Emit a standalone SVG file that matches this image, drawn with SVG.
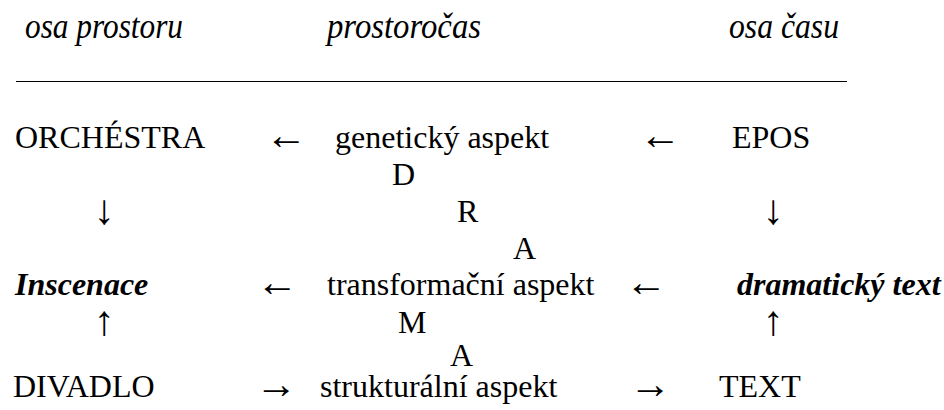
<svg xmlns="http://www.w3.org/2000/svg" width="944" height="410" viewBox="0 0 944 410">
<style>
.h{font-family:"Liberation Serif","Times New Roman",serif;font-style:italic;font-size:35px;fill:#000}
.t{font-family:"Liberation Serif","Times New Roman",serif;font-size:32px;fill:#000}
.bi{font-family:"Liberation Serif","Times New Roman",serif;font-size:32px;font-style:italic;font-weight:bold;fill:#000}
.a{font-family:"Liberation Serif","DejaVu Serif",serif;font-size:42px;fill:#000;text-anchor:middle}
</style>
<rect width="944" height="410" fill="#fff"/>
<g id="header">
<text class="h" x="25" y="38" textLength="158" lengthAdjust="spacingAndGlyphs">osa prostoru</text>
<text class="h" x="327" y="38" textLength="154" lengthAdjust="spacingAndGlyphs">prostoročas</text>
<text class="h" x="729" y="38" textLength="110" lengthAdjust="spacingAndGlyphs">osa času</text>
<line x1="16" y1="81.5" x2="847" y2="81.5" stroke="#000" stroke-width="1"/>
</g>
<g id="orchestra"><text class="t" x="15" y="148">ORCHÉSTRA</text></g>
<g id="geneticky"><text class="t" x="335" y="148">genetický aspekt</text></g>
<g id="epos"><text class="t" x="732" y="148">EPOS</text></g>
<g id="inscenace"><text class="bi" x="15" y="295">Inscenace</text></g>
<g id="transformacni"><text class="t" x="327" y="295">transformační aspekt</text></g>
<g id="dramaticky"><text class="bi" x="737" y="295">dramatický text</text></g>
<g id="divadlo"><text class="t" x="13" y="397">DIVADLO</text></g>
<g id="strukturalni"><text class="t" x="320" y="397">strukturální aspekt</text></g>
<g id="text"><text class="t" x="719" y="397">TEXT</text></g>
<g id="drama">
<text class="t" x="392" y="185">D</text>
<text class="t" x="457" y="222">R</text>
<text class="t" x="513" y="259">A</text>
<text class="t" x="398" y="333">M</text>
<text class="t" x="450" y="366">A</text>
</g>
<g id="connectors">
<text class="a" x="286" y="149">←</text>
<text class="a" x="660" y="149">←</text>
<text class="a" x="104" y="224">↓</text>
<text class="a" x="773" y="224">↓</text>
<text class="a" x="277" y="296">←</text>
<text class="a" x="646" y="296">←</text>
<text class="a" x="104" y="335">↑</text>
<text class="a" x="773" y="335">↑</text>
<text class="a" x="276" y="398">→</text>
<text class="a" x="650" y="398">→</text>
</g>
</svg>
